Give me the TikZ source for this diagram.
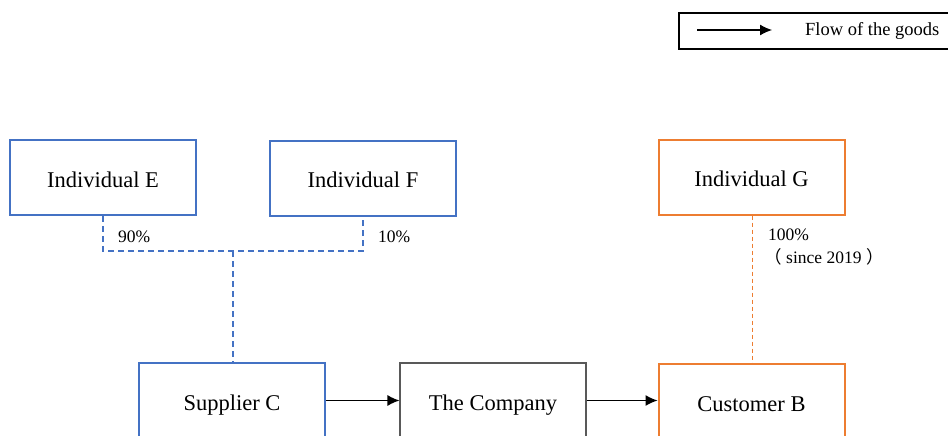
\documentclass[tikz,border=0pt]{standalone}
\usepackage{fontspec}
\setmainfont{Liberation Serif}
\newfontfamily\cjk{Noto Sans CJK SC}
\usetikzlibrary{arrows.meta}
\definecolor{bblue}{HTML}{4472C4}
\definecolor{borange}{HTML}{ED7D31}
\begin{document}
\begin{tikzpicture}[x=1pt,y=-1pt,
  boxbase/.style={draw, minimum width=186pt, minimum height=75pt, inner sep=0pt, text height=19pt, text depth=0pt, font=\fontsize{22.5}{26}\selectfont},
  bluebox/.style={boxbase, draw=bblue, line width=2pt},
  orangebox/.style={boxbase, draw=borange, line width=2pt},
  greybox/.style={boxbase, draw=black!65, line width=1.1pt},
  flow/.style={line width=1.2pt, -{Latex[length=12pt,width=11pt]}},
  pct/.style={font=\fontsize{17.5}{20}\selectfont, inner sep=0pt, anchor=west},
  bdash/.style={bblue, line width=1.4pt, dash pattern=on 6pt off 4pt},
  odash/.style={borange, line width=1.2pt, dash pattern=on 4pt off 3pt}]
\useasboundingbox (0,0) rectangle (948,436);
\begin{scope}
\clip (0,0) rectangle (948,436);
% legend
\node[draw, line width=2pt, minimum width=290pt, minimum height=36pt, anchor=north west, inner sep=0pt] (leg) at (678,12) {};
\coordinate (la) at (697,30);
\coordinate (lb) at (772,30);
\draw[line width=1.2pt, -{Latex[length=12pt,width=11pt]}] (la) -- (lb);
\node[font=\fontsize{18.5}{22}\selectfont, anchor=west, inner sep=0pt] (legt) at (805,31) {Flow of the goods};
% top boxes
\node[bluebox] (E) at (103,177.5) {Individual E};
\node[bluebox] (F) at (363,178) {Individual F};
\node[orangebox] (G) at (751.5,177) {Individual G};
% bottom boxes
\node[bluebox] (C) at (232,400.5) {Supplier C};
\node[greybox] (Co) at (493,400.5) {The Company};
\node[orangebox] (B) at (751.5,401.5) {Customer B};
% ownership
\coordinate (j1) at (103,251);
\coordinate (j2) at (363,251);
\coordinate (j3) at (233,251);
\coordinate (ox) at (752.5,300);
\draw[bdash] (E.south) -- (j1) -- (j2) -- (F.south);
\draw[bdash] (j3) -- (j3 |- C.north);
\draw[odash] (G.south -| ox) -- (B.north -| ox);
\node[pct] (p90) at (118,237) {90\%};
\node[pct] (p10) at (378,237) {10\%};
\node[pct] (p100) at (768,235) {100\%};
\node[pct] (since) at (764,257) {{\cjk\makebox[1em][r]{（}}\hspace{4.5pt}since 2019\hspace{5pt}{\cjk\makebox[1em][l]{）}}};
% flows
\draw[flow] (C.east) -- (Co.west);
\draw[flow] (Co.east) -- (Co.east -| B.west);
\end{scope}
\end{tikzpicture}
\end{document}
